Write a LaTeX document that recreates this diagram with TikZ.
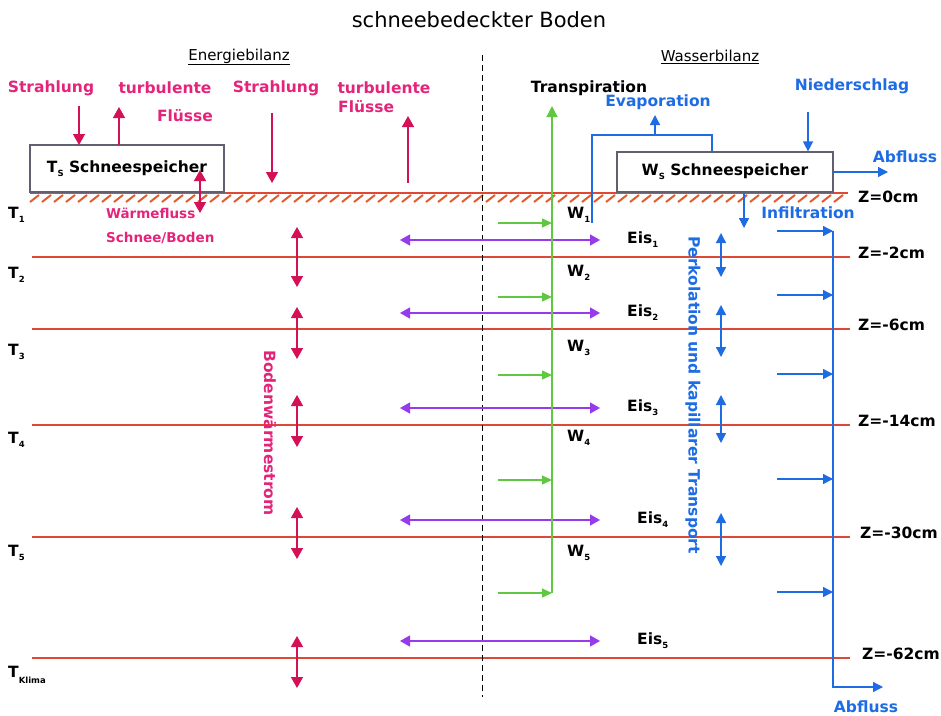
\documentclass[tikz,border=0pt]{standalone}
\usepackage{fontspec}
\setmainfont{DejaVu Sans}
\usetikzlibrary{arrows.meta}

\definecolor{magtext}{RGB}{228,36,122}
\definecolor{magarrow}{RGB}{212,16,86}
\definecolor{soilred}{RGB}{222,72,52}
\definecolor{hatchorange}{RGB}{228,92,44}
\definecolor{eisviolet}{RGB}{150,58,236}
\definecolor{wgreen}{RGB}{96,200,64}
\definecolor{wblue}{RGB}{30,108,228}
\definecolor{boxgray}{RGB}{96,96,112}

% kleiner Index
\newcommand{\tief}[1]{\raisebox{-0.45ex}{\fontsize{8.5}{9}\selectfont #1}}

\begin{document}
\begin{tikzpicture}[x=1pt, y=-1pt,
    lbl/.style={font=\bfseries\fontsize{15.5}{18}\selectfont, inner sep=0pt},
    maglbl/.style={lbl, text=magtext},
    blulbl/.style={lbl, text=wblue},
    speicher/.style={draw=boxgray, line width=1.2pt, fill=white, inner sep=0pt},
    magpfeil/.style={magarrow, line width=1.4pt, -{Triangle[length=11pt,width=12pt]}},
    magdoppel/.style={magarrow, line width=1.4pt, {Triangle[length=11pt,width=12pt]}-{Triangle[length=11pt,width=12pt]}},
    eispfeil/.style={eisviolet, line width=1.4pt, {Triangle[length=10pt,width=11pt]}-{Triangle[length=10pt,width=11pt]}},
    gruenpfeil/.style={wgreen, line width=1.3pt, -{Triangle[length=10pt,width=9pt]}},
    blaupfeil/.style={wblue, line width=1.3pt, -{Triangle[length=10pt,width=10pt]}},
    blaudoppel/.style={wblue, line width=1.3pt, {Triangle[length=10pt,width=10pt]}-{Triangle[length=10pt,width=10pt]}},
    schicht/.style={soilred, line width=2.2pt}]

    \useasboundingbox (0,0) rectangle (941,715);

    % Titel
    \node[font=\fontsize{21}{24}\selectfont] (titel) at (479,20) {schneebedeckter Boden};
    \node[font=\fontsize{15}{18}\selectfont] (ebil) at (239,57) {\underline{Energiebilanz}};
    \node[font=\fontsize{15}{18}\selectfont] (wbil) at (710,57) {\underline{Wasserbilanz}};

    % Schichtgrenzen und Tiefen
    \foreach \y/\z/\xz in {257/-2/858, 329/-6/858, 425/-14/858, 537/-30/860, 658/-62/862} {
        \draw[schicht] (32,\y) -- (850,\y);
        \node[lbl, anchor=west] (z\z) at (\xz,\y-4) {Z=\z cm};
    }

    % Bodenoberflaeche mit Schraffur
    \draw[soilred, line width=2.8pt] (30,193) -- (848,193);
    \foreach \x in {30,42,...,840}
        \draw[hatchorange, line width=2pt] (\x,202) -- (\x+9,195);
    \node[lbl, anchor=west] (z0) at (858,197) {Z=0cm};

    % Trennlinie
    \draw[dashed, dash pattern=on 6pt off 4pt, line width=0.8pt] (482,55) -- (482,697);

    % Schneespeicher
    \node[speicher, minimum width=194pt, minimum height=47pt] (ts) at (127,168.5)
        {\bfseries\fontsize{15.5}{18}\selectfont T\tief{S} Schneespeicher};
    \node[speicher, minimum width=216pt, minimum height=40pt] (ws) at (725,172)
        {\bfseries\fontsize{15.5}{18}\selectfont W\tief{S} Schneespeicher};

    % Energiebilanz oben
    \node[maglbl] (str1) at (51,88) {Strahlung};
    \node[maglbl] (turb1) at (165,88) {turbulente};
    \node[maglbl] (fl1) at (185,116) {Flüsse};
    \node[maglbl] (str2) at (276,88) {Strahlung};
    \node[maglbl] (turb2) at (384,88) {turbulente};
    \node[maglbl, anchor=west] (fl2) at (338,107) {Flüsse};
    \draw[magpfeil] (79,106) -- (79,145);
    \draw[magpfeil] (119,145) -- (119,107);
    \draw[magpfeil] (272,113) -- (272,183);
    \draw[magpfeil] (408,183) -- (408,116);
    \draw[magdoppel] (200,170) -- (200,213);
    \node[maglbl, font=\bfseries\fontsize{13.5}{16}\selectfont, anchor=west] (wfl) at (106,213) {Wärmefluss};
    \node[maglbl, font=\bfseries\fontsize{13.5}{16}\selectfont, anchor=west] (sb) at (106,238) {Schnee/Boden};

    % Temperaturen und Bodenwaermestrom
    \foreach \y/\t [count=\i] in {215/1, 275/2, 352/3, 440/4, 553/5, 675/{\tief{Klima}}} {
        \node[lbl, anchor=west] (t\i) at (8,\y) {T\tief{\t}};
    }
    \foreach \ya/\yb in {227/287, 307/359, 395/447, 507/559, 636/688}
        \draw[magdoppel] (297,\ya) -- (297,\yb);
    \node[maglbl, rotate=-90] (bws) at (270,433) {Bodenwärmestrom};

    % Eis
    \foreach \y/\xe [count=\i] in {240/627, 313/627, 408/627, 520/637, 641/637} {
        \draw[eispfeil] (400,\y) -- (600,\y);
        \node[lbl, anchor=west] (eis\i) at (\xe,\y) {Eis\tief{\i}};
    }

    % Transpiration
    \node[lbl] (trans) at (589,88) {Transpiration};
    \draw[wgreen, line width=1.3pt, -{Triangle[length=11pt,width=11pt]}] (552,593) -- (552,106);
    \foreach \y in {223,297,375,480,593}
        \draw[gruenpfeil] (498,\y) -- (552,\y);
    \foreach \y [count=\i] in {215,273,348,438,553}
        \node[lbl, anchor=west] (w\i) at (567,\y) {W\tief{\i}};

    % Evaporation
    \node[blulbl] (evap) at (658,102) {Evaporation};
    \draw[wblue, line width=1.3pt] (592,223) -- (592,135) -- (712,135) -- (712,152);
    \draw[blaupfeil] (655,135) -- (655,115);

    % Niederschlag und Abfluss
    \node[blulbl] (nied) at (852,86) {Niederschlag};
    \draw[blaupfeil] (808,112) -- (ws.north -| 808,0);
    \node[blulbl] (abfl1) at (905,157) {Abfluss};
    \draw[blaupfeil] (ws.east) -- (888,172);
    \draw[blaupfeil] (744,193) -- (744,228);

    % Perkolation
    \node[blulbl, rotate=-90] (perk) at (693,395) {Perkolation und kapillarer Transport};
    \foreach \ya/\yb in {233/277, 305/357, 395/443, 513/566}
        \draw[blaudoppel] (721,\ya) -- (721,\yb);

    % Infiltration
    \node[blulbl] (infi) at (808,213) {Infiltration};
    \draw[blaupfeil] (833,231) -- (833,687) -- (883,687);
    \foreach \y in {231,295,374,479,592}
        \draw[blaupfeil] (777,\y) -- (833,\y);
    \node[blulbl] (abfl2) at (866,707) {Abfluss};

\end{tikzpicture}
\end{document}
